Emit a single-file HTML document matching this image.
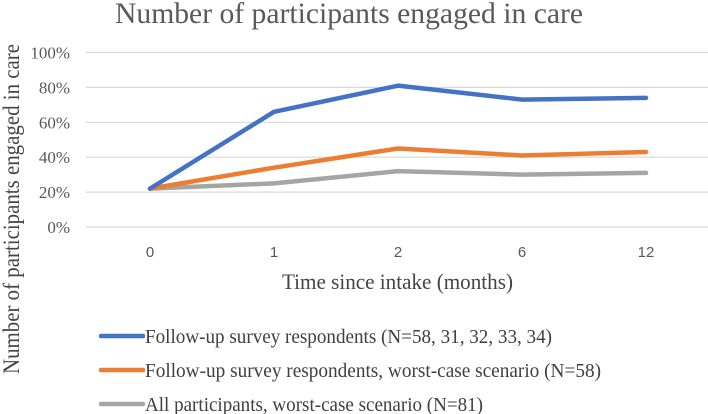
<!DOCTYPE html>
<html><head><meta charset="utf-8"><style>
body{margin:0;background:#fff}
svg{display:block}
</style></head><body>
<svg width="708" height="414">
<text x="115" y="23" textLength="468" lengthAdjust="spacingAndGlyphs" font-family="Liberation Serif, serif" font-size="30" fill="#595959">Number of participants engaged in care</text>
<text transform="translate(19,209) rotate(-90)" text-anchor="middle" textLength="330" lengthAdjust="spacingAndGlyphs" font-family="Liberation Serif, serif" font-size="23" fill="#444">Number of participants engaged in care</text>
<text x="282" y="289" textLength="231" lengthAdjust="spacingAndGlyphs" font-family="Liberation Serif, serif" font-size="22" fill="#444">Time since intake (months)</text>
<g id="grid"></g><g id="series"></g><g id="legend"></g>
</svg>
<script>
const categories=["0","1","2","6","12"];
const yTicks=[0,20,40,60,80,100];
const s1=[22,66,81,73,74];
const s2=[22,34,45,41,43];
const s3=[22,25,32,30,31];
const names=["Follow-up survey respondents (N=58, 31, 32, 33, 34)"," Follow-up survey respondents, worst-case scenario (N=58)","All participants, worst-case scenario (N=81)"];
const legendW=[407,456,338];
const colors=["#4472C4","#ED7D31","#A5A5A5"];
const NS="http://www.w3.org/2000/svg";
const X=i=>150+i*124, Y=v=>227-v*1.745;
function mk(t,a,p){const e=document.createElementNS(NS,t);for(const k in a)e.setAttribute(k,a[k]);p.appendChild(e);return e;}
const g=document.getElementById('grid');
yTicks.forEach(t=>{
 const l=mk('line',{x1:86,x2:708,y1:Y(t),y2:Y(t),stroke:'#d9d9d9','stroke-width':1.2},g);
 
 
 const tx=mk('text',{x:70,y:Y(t)+6,'text-anchor':'end','font-family':'Liberation Serif, serif','font-size':17,fill:'#595959'},g);
 tx.textContent=t+'%';
 
 
});
categories.forEach((c,i)=>{
 const tx=mk('text',{x:X(i),y:257,'text-anchor':'middle','font-family':'Liberation Sans, sans-serif','font-size':15,fill:'#595959'},g);
 tx.textContent=c;
 
 
});
const sg=document.getElementById('series');
[s3,s2,s1].forEach((s,j)=>{
 const k=2-j;
 const p=mk('polyline',{points:s.map((v,i)=>X(i)+','+Y(v)).join(' '),fill:'none',stroke:colors[k],'stroke-width':4.5,'stroke-linejoin':'round','stroke-linecap':'round'},sg);
 
 
});
const lg=document.getElementById('legend');
names.forEach((n,k)=>{
 const y=336+k*34;
 const l=mk('line',{x1:101,x2:143,y1:y,y2:y,stroke:colors[k],'stroke-width':4.5,'stroke-linecap':'round'},lg);
 
 
 const t=mk('text',{x:145,y:y+7,'font-family':'Liberation Serif, serif','font-size':20,fill:'#404040',textLength:legendW[k],lengthAdjust:'spacingAndGlyphs'},lg);
 t.textContent=n;
 
 
});
</script>
</body></html>
